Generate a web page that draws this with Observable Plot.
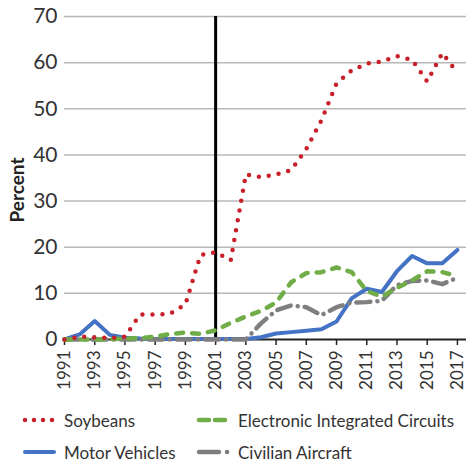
<!DOCTYPE html>
<html>
<head>
<meta charset="utf-8">
<script src="https://cdn.jsdelivr.net/npm/d3@7"></script>
<script src="https://cdn.jsdelivr.net/npm/@observablehq/plot@0.6"></script>
<style>
  html, body { margin: 0; padding: 0; background: #fff; }
  #chart { width: 466px; height: 463px; position: relative; font-family: Lato, "Open Sans", sans-serif; color: #333; }
  #legend { position: relative; width: 466px; height: 63px; }
  .item { position: absolute; display: flex; align-items: center; font-size: 17px; color: #333; white-space: nowrap; }
  .item svg { margin-right: 8px; }
</style>
</head>
<body>
<div id="chart"></div>
<script>
const years = [1991,1992,1993,1994,1995,1996,1997,1998,1999,2000,2001,2002,2003,2004,2005,2006,2007,2008,2009,2010,2011,2012,2013,2014,2015,2016,2017];
const soybeans = [0,0.6,0.5,0.3,0.6,5.4,5.4,5.6,7.6,18.3,18.9,17.2,35.8,35.2,35.8,36.7,41.3,47.5,55.5,58.3,59.8,60.2,61.4,60.6,55.9,62.1,57.8];
const circuits = [0,0,0,0.1,0.2,0.3,0.6,1.2,1.5,1.2,2.0,3.6,5.0,6.2,8.0,12.4,14.4,14.6,15.6,14.6,10.5,9.3,11.2,12.8,14.8,14.6,13.7];
const motorVehicles = [0,1.1,4.0,1.0,0.4,0.2,0.1,0.1,0.1,0.1,0.1,0.1,0.1,0.5,1.3,1.6,1.9,2.2,3.9,8.9,11.0,10.3,14.8,18.1,16.5,16.5,19.4];
const aircraft = [0,0,0,0,0,0,0,0,0,0,0,0,0,3.5,6.3,7.4,7.0,5.3,7.0,8.0,8.1,8.4,11.8,12.7,12.8,12.0,13.4];
const seriesNames = ["Soybeans","Electronic Integrated Circuits","Motor Vehicles","Civilian Aircraft"];
const xTicks = [1991,1993,1995,1997,1999,2001,2003,2005,2007,2009,2011,2013,2015,2017];
const yTicks = [0,10,20,30,40,50,60,70];
const markerYear = [2001];

const styles = {
  "Soybeans": {stroke: "#c8202a", strokeWidth: 4.5, strokeDasharray: "0 10", strokeLinecap: "round"},
  "Electronic Integrated Circuits": {stroke: "#70ad47", strokeWidth: 4.5, strokeDasharray: "7 9", strokeLinecap: "round"},
  "Motor Vehicles": {stroke: "#4472c4", strokeWidth: 4, strokeLinecap: "round", strokeLinejoin: "round"},
  "Civilian Aircraft": {stroke: "#7f7f7f", strokeWidth: 4.5, strokeDasharray: "14 7 0.1 7", strokeLinecap: "round"}
};
const values = {
  "Soybeans": soybeans,
  "Electronic Integrated Circuits": circuits,
  "Motor Vehicles": motorVehicles,
  "Civilian Aircraft": aircraft
};
const table = name => years.map((year, i) => ({year, value: values[name][i]}));

const drawOrder = ["Motor Vehicles","Civilian Aircraft","Electronic Integrated Circuits","Soybeans"];

const plot = Plot.plot({
  width: 466,
  height: 400,
  marginLeft: 64,
  marginRight: 0,
  marginTop: 16,
  marginBottom: 61,
  style: {fontFamily: "Lato, 'Open Sans', sans-serif", color: "#333", background: "#fff"},
  x: {domain: [1991, 2017.6]},
  y: {domain: [0, 70]},
  marks: [
    Plot.gridY(yTicks.filter(d => d > 0), {stroke: "#b8b8b8", strokeOpacity: 1, strokeWidth: 1.5}),
    Plot.axisY(yTicks, {tickSize: 0, tickPadding: 7, fontSize: 21, label: null}),
    Plot.axisX(xTicks, {tickFormat: d => String(d), tickRotate: -90, tickSize: 6, tickPadding: 5, fontSize: 17, label: null, stroke: "#222", strokeWidth: 1.5}),
    Plot.text(["Percent"], {frameAnchor: "left", textAnchor: "middle", text: d => d, rotate: -90, dx: -47, dy: 12, fontSize: 19, fontWeight: "bold", fill: "#222"}),
    Plot.ruleY([0], {stroke: "#222", strokeWidth: 2}),
    Plot.ruleX(markerYear, {y1: 0, y2: 70, stroke: "#000", strokeWidth: 3}),
    ...drawOrder.map(name => Plot.line(table(name), {x: "year", y: "value", ...styles[name]}))
  ]
});
document.getElementById("chart").appendChild(plot);

// legend
const legend = document.createElement("div");
legend.id = "legend";
const positions = {
  "Soybeans": {left: 22, top: 8},
  "Electronic Integrated Circuits": {left: 196, top: 8},
  "Motor Vehicles": {left: 22, top: 40},
  "Civilian Aircraft": {left: 196, top: 40}
};
const ns = "http://www.w3.org/2000/svg";
for (const name of seriesNames) {
  const item = document.createElement("div");
  item.className = "item";
  item.style.left = positions[name].left + "px";
  item.style.top = positions[name].top + "px";
  const svg = document.createElementNS(ns, "svg");
  const w = 34;
  svg.setAttribute("width", w);
  svg.setAttribute("height", 24);
  const line = document.createElementNS(ns, "line");
  const s = styles[name];
  line.setAttribute("x1", 3);
  line.setAttribute("x2", w - 2);
  line.setAttribute("y1", 12);
  line.setAttribute("y2", 12);
  line.setAttribute("stroke", s.stroke);
  line.setAttribute("stroke-width", s.strokeWidth);
  line.setAttribute("stroke-linecap", s.strokeLinecap || "butt");
  if (name === "Soybeans") line.setAttribute("stroke-dasharray", "0 9");
  else if (name === "Electronic Integrated Circuits") line.setAttribute("stroke-dasharray", "10 6");
  else if (name === "Civilian Aircraft") line.setAttribute("stroke-dasharray", "20 8 0.1 10");
  svg.appendChild(line);
  item.appendChild(svg);
  const label = document.createElement("span");
  label.textContent = name;
  item.appendChild(label);
  legend.appendChild(item);
}
document.getElementById("chart").appendChild(legend);
</script>
</body>
</html>
